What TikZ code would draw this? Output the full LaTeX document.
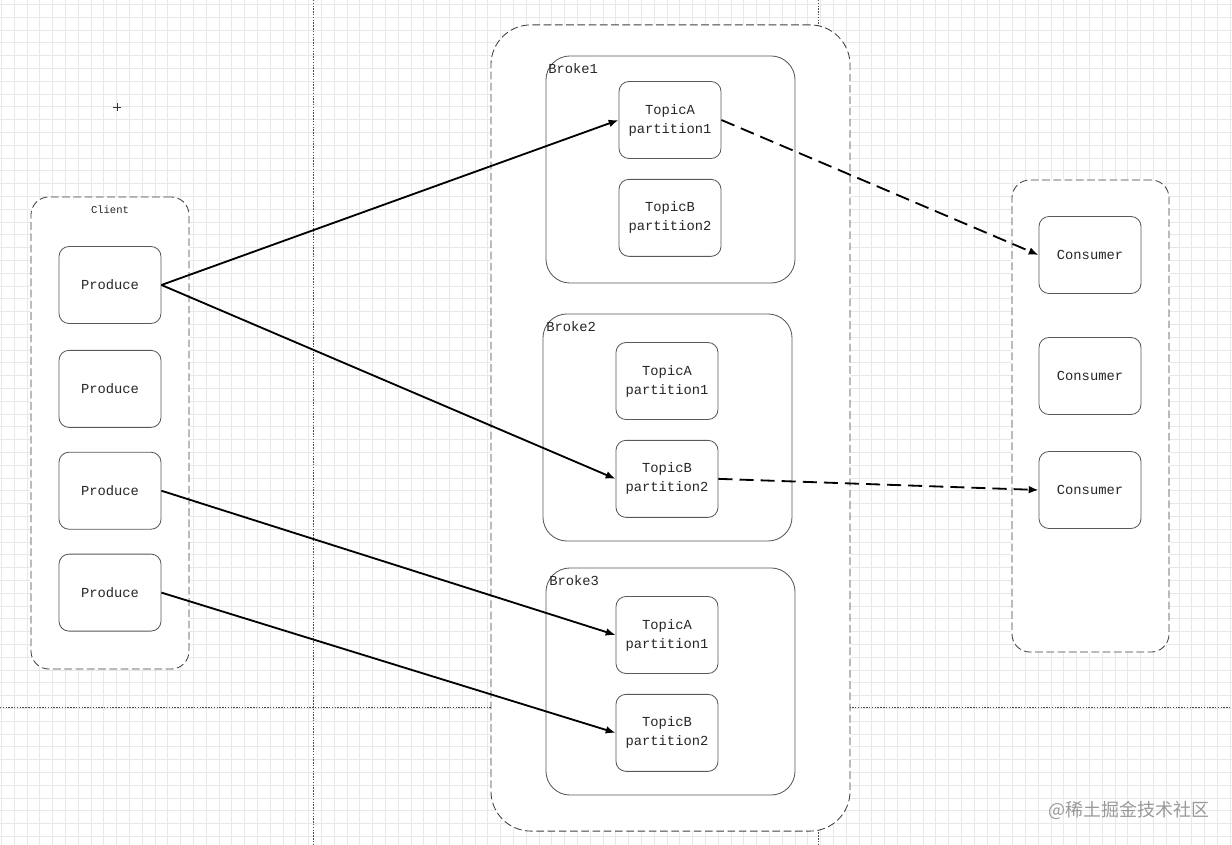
\documentclass[tikz,border=0pt]{standalone}
\usepackage{fontspec}
\setmonofont{Liberation Mono}
\newfontfamily\cjk{Noto Sans CJK SC}
\usepackage{tikz}
\usetikzlibrary{positioning,arrows.meta}

\begin{document}
\begin{tikzpicture}[x=0.025cm, y=-0.025cm,
    box/.style={rectangle, draw=black!65, fill=white, rounded corners=0.25cm, minimum width=2.55cm, minimum height=1.925cm, align=center, font=\ttfamily\fontsize{9.8}{13.5}\selectfont, text=black!85, line width=0.6pt},
    group/.style={rectangle, draw=black!75, fill=white, dash pattern=on 5.5pt off 2.5pt, rounded corners=0.45cm, line width=0.6pt},
    broker/.style={rectangle, draw=black!65, fill=white, rounded corners=0.6cm, minimum width=6.225cm, minimum height=5.675cm, line width=0.6pt},
    lbl/.style={font=\ttfamily\fontsize{9.8}{12}\selectfont, text=black!85, inner sep=0pt},
    arrow/.style={-{Latex[length=7pt,width=5.5pt]}, line width=1.3pt},
    dasharrow/.style={arrow, dash pattern=on 10pt off 5pt},
    gridline/.style={black!9, line width=0.5pt},
    page/.style={black!70, line width=0.5pt, dash pattern=on 1pt off 1pt}
]
    \useasboundingbox (0,0) rectangle (1232,845);
    \fill[white] (0,0) rectangle (1232,845);

    % background grid and page breaks
    \foreach \i in {0,...,96}
        \draw[gridline] ({1.3+12.8*\i},0) -- ({1.3+12.8*\i},845);
    \foreach \j in {0,...,65}
        \draw[gridline] (0,{4.3+12.8*\j}) -- (1232,{4.3+12.8*\j});
    \draw[page] (313,0) -- (313,845);
    \draw[page] (818,0) -- (818,845);
    \draw[page] (0,707) -- (1232,707);
    \draw[black!80, line width=0.6pt] (113,107) -- (121,107) (117,103) -- (117,111);

    % containers
    \node[group, minimum width=3.95cm, minimum height=11.8cm] (client) at (110,433) {};
    \node[group, minimum width=8.975cm, minimum height=20.15cm, rounded corners=1cm] (cluster) at (670.5,428) {};
    \node[group, minimum width=3.925cm, minimum height=11.8cm] (consumers) at (1090.5,416) {};
    \node[font=\ttfamily\fontsize{7.5}{9}\selectfont, text=black!85, below=0.12cm of client.north] (clientlbl) {Client};

    % brokers
    \node[broker] (broke1) at (670.5,169.5) {};
    \node[broker] (broke2) at (667.5,427.5) {};
    \node[broker] (broke3) at (670.5,681.5) {};
    \node[lbl, anchor=west] (b1lbl) at (548,69) {Broke1};
    \node[lbl, anchor=west] (b2lbl) at (546,327) {Broke2};
    \node[lbl, anchor=west] (b3lbl) at (549,581) {Broke3};

    % producers
    \node[box] (p1) at (110,285) {Produce};
    \node[box, below=0.65cm of p1] (p2) {Produce};
    \node[box, below=0.6cm of p2] (p3) {Produce};
    \node[box, below=0.6cm of p3] (p4) {Produce};

    % partitions
    \node[box] (b1a) at (670,120) {TopicA\\partition1};
    \node[box, below=0.5cm of b1a] (b1b) {TopicB\\partition2};
    \node[box] (b2a) at (667,381) {TopicA\\partition1};
    \node[box, below=0.5cm of b2a] (b2b) {TopicB\\partition2};
    \node[box] (b3a) at (667,635) {TopicA\\partition1};
    \node[box, below=0.5cm of b3a] (b3b) {TopicB\\partition2};

    % consumers
    \node[box] (c1) at (1090,255) {Consumer};
    \node[box] (c2) at (1090,376) {Consumer};
    \node[box] (c3) at (1090,490) {Consumer};

    \draw[arrow] (p1.east) -- (b1a.west);
    \draw[arrow] (p1.east) -- (b2b.west);
    \draw[arrow] (p3.east) -- (b3a.west);
    \draw[arrow] (p4.east) -- (b3b.west);
    \draw[dasharrow] (b1a.east) -- (c1.west);
    \draw[dasharrow] (b2b.east) -- (c3.west);

    \node[font=\cjk\fontsize{12.8}{14}\selectfont, text=black!40] (mark) at (1129,810) {@稀土掘金技术社区};
\end{tikzpicture}
\end{document}
